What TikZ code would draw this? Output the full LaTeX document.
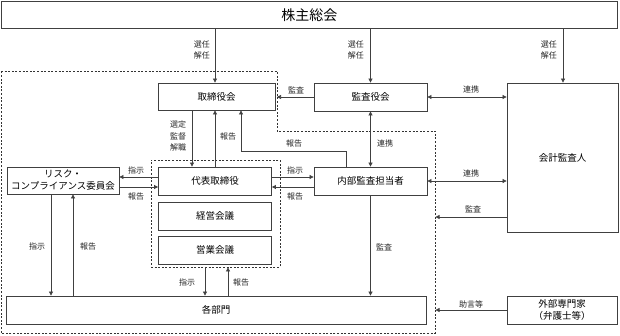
\documentclass[tikz,border=0pt]{standalone}
\usepackage{fontspec}
\setmainfont{Noto Sans CJK JP}
\usetikzlibrary{arrows.meta}
\begin{document}
\begin{tikzpicture}[x=1pt,y=-1pt,
  box/.style={draw=black!75, line width=0.8pt, fill=white, inner sep=0pt, align=center, font=\fontsize{9.5}{12}\selectfont},
  lab/.style={font=\fontsize{8}{11.5}\selectfont, text=black!85, inner sep=0pt, align=center},
  tip/.tip={Triangle[length=4pt,width=4pt]},
  arr/.style={draw=black!75, line width=0.7pt, -tip},
  darr/.style={draw=black!75, line width=0.7pt, tip-tip},
  grp/.style={draw=black!80, line width=0.8pt, dash pattern=on 2pt off 1.6pt}]
\useasboundingbox (0,0) rectangle (620,335);

% outer group (dashed)
\draw[grp] (1,71) -- (277,71) -- (277,131) -- (435,131) -- (435,333) -- (1,333) -- cycle;
\coordinate (gL) at (277,0);
\coordinate (gR) at (435.5,0);

% inner group
\node[grp, minimum width=129pt, minimum height=107pt, inner sep=0pt] (inner) at (215.5,213.5) {};

% boxes
\node[box, minimum width=615.5pt, minimum height=27.5pt, font=\fontsize{14}{16}\selectfont] (share) at (309.25,15) {株主総会};
\node[box, minimum width=117pt, minimum height=27pt] (board) at (216.5,96.5) {取締役会};
\node[box, minimum width=113pt, minimum height=28pt] (kansa) at (370.5,97) {監査役会};
\node[box, minimum width=111pt, minimum height=149pt] (auditor) at (562.5,157.5) {会計監査人};
\node[box, minimum width=113pt, minimum height=28pt] (daihyo) at (215,181) {代表取締役};
\node[box, minimum width=113pt, minimum height=28pt] (keiei) at (215,216) {経営会議};
\node[box, minimum width=113pt, minimum height=28pt] (eigyo) at (215,250) {営業会議};
\node[box, minimum width=112pt, minimum height=27pt] (risk) at (63,180.5) {リスク・\\コンプライアンス委員会};
\node[box, minimum width=113pt, minimum height=28pt] (naibu) at (370.5,181) {内部監査担当者};
\node[box, minimum width=420pt, minimum height=28pt] (bumon) at (216,310) {各部門};
\node[box, minimum width=110pt, minimum height=28pt] (gaibu) at (562,310) {外部専門家\\（弁護士等）};

% shareholders -> bodies
\draw[arr] (215,0 |- share.south) -- (215,0 |- board.north);
\draw[arr] (kansa.north |- share.south) -- (kansa.north);
\draw[arr] (563,0 |- share.south) -- (563,0 |- auditor.north);
\node[lab, anchor=east] at (210,50) {選任\\解任};
\node[lab, anchor=east] at (364,50) {選任\\解任};
\node[lab, anchor=east] at (557,50) {選任\\解任};

% kansa connections
\draw[arr] (kansa.west) -- (gL |- kansa.west);
\node[lab] at (296,90) {監査};
\draw[darr] (kansa.east) -- (auditor.west |- kansa.east);
\node[lab] at (471,89) {連携};
\draw[darr] (kansa.south) -- (naibu.north);
\node[lab] at (385,143) {連携};

% board <-> daihyo
\draw[arr] (192,0 |- board.south) -- (192,0 |- daihyo.north);
\node[lab] at (178,136) {選定\\監督\\解職};
\draw[arr] (215,0 |- daihyo.north) -- (215,0 |- board.south);
\node[lab] at (228,136) {報告};

% naibu report to board
\draw[arr] (346,0 |- naibu.north) |- (241,151) -- (241,0 |- board.south);
\node[lab] at (294,143) {報告};

% daihyo <-> naibu
\draw[arr] (daihyo.east |- 0,177) -- (naibu.west |- 0,177);
\node[lab] at (295,170) {指示};
\draw[arr] (naibu.west |- 0,187) -- (daihyo.east |- 0,187);
\node[lab] at (295,196) {報告};

% daihyo <-> risk
\draw[arr] (daihyo.west |- 0,177) -- (risk.east |- 0,177);
\node[lab] at (136,170) {指示};
\draw[arr] (risk.east |- 0,187) -- (daihyo.west |- 0,187);
\node[lab] at (136,196) {報告};

% naibu <-> auditor
\draw[darr] (naibu.east) -- (auditor.west |- naibu.east);
\node[lab] at (471,173) {連携};

% auditor audit
\draw[arr] (auditor.west |- 0,217) -- (gR |- 0,217);
\node[lab] at (473,209) {監査};

% naibu audit bumon
\draw[arr] (naibu.south) -- (naibu.south |- bumon.north);
\node[lab] at (384,247) {監査};

% inner group <-> bumon
\draw[arr] (205,0 |- inner.south) -- (205,0 |- bumon.north);
\node[lab] at (187,282) {指示};
\draw[arr] (228,0 |- bumon.north) -- (228,0 |- inner.south);
\node[lab] at (241,282) {報告};

% risk <-> bumon
\draw[arr] (51,0 |- risk.south) -- (51,0 |- bumon.north);
\node[lab] at (37,246) {指示};
\draw[arr] (73,0 |- bumon.north) -- (73,0 |- risk.south);
\node[lab] at (88,246) {報告};

% external experts
\draw[arr] (gaibu.west) -- (gR |- gaibu.west);
\node[lab] at (471,304) {助言等};
\end{tikzpicture}
\end{document}
